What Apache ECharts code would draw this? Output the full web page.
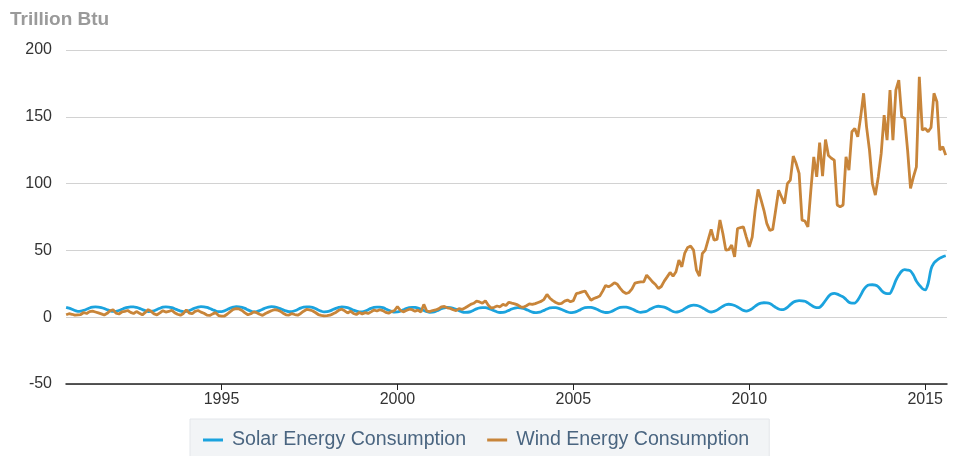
<!DOCTYPE html>
<html>
<head>
<meta charset="utf-8">
<title>Solar and Wind Energy Consumption</title>
<script src="https://cdn.jsdelivr.net/npm/echarts@6/dist/echarts.min.js"></script>
<style>
  html, body { margin: 0; padding: 0; background: #fff; }
  #chart { width: 959px; height: 456px; }
</style>
</head>
<body>
<div id="chart"></div>
<script>
// monthly series, first value is August 1990
const startYear = 1990
const startMonth = 8
const yearTicks = [1995, 2000, 2005, 2010, 2015]
const seriesNames = ["Solar Energy Consumption", "Wind Energy Consumption"]

const solarValues = [
  7.4, 6.8, 6.0, 5.0, 4.4,
  4.6, 5.2, 6.0, 6.9, 7.5, 7.8, 7.6, 7.2, 6.5, 5.6, 4.8, 4.3,
  4.4, 5.0, 5.9, 6.8, 7.4, 7.7, 7.7, 7.3, 6.6, 5.7, 4.9, 4.2,
  4.3, 4.8, 5.8, 6.7, 7.5, 7.8, 7.6, 7.1, 6.3, 5.4, 4.6, 4.1,
  4.3, 4.9, 5.9, 6.9, 7.6, 7.9, 7.8, 7.3, 6.5, 5.6, 4.7, 4.2,
  4.2, 4.7, 5.8, 6.8, 7.5, 7.9, 7.8, 7.4, 6.6, 5.5, 4.6, 4.0,
  4.2, 4.9, 5.9, 6.9, 7.6, 7.9, 7.8, 7.2, 6.4, 5.5, 4.7, 4.1,
  4.2, 4.8, 5.8, 6.8, 7.5, 7.8, 7.7, 7.3, 6.5, 5.4, 4.5, 4.0,
  4.1, 4.7, 5.7, 6.6, 7.3, 7.7, 7.6, 7.1, 6.3, 5.3, 4.5, 3.9,
  4.0, 4.6, 5.6, 6.6, 7.3, 7.6, 7.5, 7.1, 6.2, 5.2, 4.4, 3.8,
  3.9, 4.5, 5.5, 6.5, 7.1, 7.4, 7.3, 6.8, 6.0, 5.0, 4.2, 3.7,
  3.8, 4.3, 5.3, 6.3, 7.0, 7.3, 7.2, 6.7, 5.9, 4.9, 4.0, 3.6,
  3.7, 4.2, 5.2, 6.2, 6.9, 7.2, 7.1, 6.6, 5.8, 4.8, 3.9, 3.5,
  3.6, 4.1, 5.1, 6.1, 6.8, 7.1, 7.0, 6.5, 5.7, 4.7, 3.8, 3.4,
  3.6, 4.1, 5.1, 6.1, 6.9, 7.2, 7.1, 6.6, 5.8, 4.8, 3.9, 3.4,
  3.6, 4.2, 5.2, 6.3, 7.1, 7.4, 7.3, 6.8, 6.0, 4.9, 4.0, 3.5,
  3.7, 4.3, 5.4, 6.5, 7.3, 7.6, 7.5, 7.0, 6.2, 5.1, 4.1, 3.6,
  3.9, 4.5, 5.7, 6.9, 7.8, 8.2, 8.0, 7.5, 6.6, 5.4, 4.3, 3.8,
  4.2, 5.0, 6.4, 7.7, 8.7, 9.0, 8.8, 8.2, 7.1, 5.8, 4.5, 3.9,
  4.4, 5.3, 6.8, 8.2, 9.3, 9.7, 9.5, 8.8, 7.7, 6.3, 5.1, 4.6,
  5.2, 6.4, 8.2, 9.7, 10.5, 10.8, 10.7, 10.2, 8.9, 7.4, 6.1, 5.6,
  6.0, 7.4, 9.4, 11.2, 12.1, 12.4, 12.3, 11.9, 10.7, 9.2, 7.8, 7.2,
  7.4, 9.5, 12.5, 15.5, 17.4, 17.8, 17.3, 16.2, 15.2, 13.3, 11.2, 10.5,
  10.6, 12.8, 16.5, 20.5, 23.2, 24.2, 24.3, 24.0, 22.8, 20.2, 18.3, 17.6,
  17.8, 22.0, 27.5, 31.5, 34.5, 35.6, 35.3, 34.6, 31.5, 27.0, 24.0, 21.5,
  20.5, 25.2, 36.0, 40.5, 42.6, 44.2, 45.3, 46.0
]

const windValues = [
  1.8, 2.6, 2.2, 1.5, 1.8,
  2.0, 3.5, 2.8, 4.2, 4.6, 3.9, 3.2, 2.5, 1.6, 2.9, 4.8, 5.6,
  3.0, 2.4, 3.9, 4.4, 5.0, 3.6, 2.8, 4.2, 3.0, 1.8, 3.6, 5.7,
  4.4, 2.5, 1.8, 3.2, 4.9, 3.8, 4.3, 5.2, 3.4, 2.2, 1.5, 2.8,
  5.5, 3.1, 2.6, 4.4, 5.0, 3.8, 2.9, 1.6, 1.3, 2.5, 3.4, 1.2,
  0.8, 0.9, 2.4, 4.2, 5.8, 6.4, 6.2, 5.0, 3.2, 1.8, 2.6, 4.0,
  3.4, 2.2, 1.4, 2.8, 3.8, 4.8, 5.6, 5.4, 4.5, 3.0, 1.8, 1.6,
  2.7, 2.0, 1.5, 2.8, 4.5, 5.8, 5.5, 4.8, 3.5, 2.0, 1.4, 1.0,
  1.2, 1.5, 2.5, 3.6, 5.2, 6.0, 4.8, 3.2, 4.5, 2.8, 2.0, 3.5,
  2.5, 3.4, 2.8, 4.0, 5.4, 4.6, 5.6, 4.9, 3.6, 3.0, 4.2, 5.0,
  8.0, 5.2, 4.0, 5.0, 6.0, 5.6, 4.5, 5.3, 3.8, 9.6, 4.6, 4.2,
  5.0, 5.4, 6.2, 7.8, 8.0, 7.0, 6.6, 5.6, 4.9, 6.5, 5.8, 6.9,
  8.2, 9.6, 10.4, 12.0, 11.4, 10.5, 12.3, 9.0, 6.8, 7.4, 8.4, 7.8,
  9.6, 8.8, 11.2, 10.5, 10.0, 9.2, 7.8, 7.4, 8.6, 10.0, 9.6, 10.2,
  11.0, 11.8, 13.4, 17.0, 14.2, 12.4, 11.0, 10.0, 10.4, 12.0, 12.8, 11.6,
  12.4, 17.6, 18.2, 19.0, 19.6, 16.0, 12.7, 14.0, 14.8, 15.8, 19.5, 23.8,
  22.7, 24.0, 25.8, 24.6, 21.6, 19.0, 17.7, 18.5, 21.2, 25.5, 26.0, 26.4,
  26.4, 31.5, 29.0, 26.4, 24.5, 21.5, 23.0, 27.0, 30.2, 33.5, 30.7, 34.0,
  42.7, 37.7, 48.0, 52.2, 53.2, 50.2, 35.2, 30.7, 47.7, 50.2, 58.0, 65.7,
  57.7, 58.2, 72.7, 62.7, 50.2, 50.5, 54.0, 45.2, 66.4, 67.0, 67.6, 60.0,
  52.7, 60.0, 80.0, 95.7, 88.0, 80.0, 70.0, 65.0, 65.7, 80.0, 95.0, 90.0,
  85.0, 100.0, 102.6, 120.6, 115.0, 107.6, 72.7, 72.0, 67.6, 95.0, 120.0, 105.0,
  130.6, 105.6, 133.0, 121.0, 119.0, 117.6, 84.0, 82.6, 84.0, 120.0, 110.0, 138.8,
  141.3, 135.0, 150.0, 167.6, 142.5, 125.0, 100.0, 91.4, 105.0, 122.6, 151.3, 132.6,
  170.0, 132.6, 170.0, 177.5, 150.0, 148.8, 125.0, 96.4, 105.0, 112.6, 180.0, 140.0,
  141.3, 138.8, 142.0, 167.6, 161.3, 125.0, 127.6, 121.3
]

function toPoints(values) {
  return values.map((v, i) => [startYear + (startMonth - 1 + i) / 12, v])
}

const chart = echarts.init(document.getElementById("chart"))

const option = {
  animation: false,
  textStyle: { fontFamily: "Liberation Sans, Arial, sans-serif" },
  title: {
    text: "Trillion Btu",
    left: 5,
    top: 5,
    textStyle: { fontSize: 19, fontWeight: "bold", color: "#9a9a9a" },
  },
  grid: {
    left: 66,
    right: 12,
    top: 50,
    bottom: 72,
  },
  legend: {
    data: seriesNames,
    left: 190,
    top: 419,
    icon: "rect",
    itemWidth: 20,
    itemHeight: 3,
    itemGap: 21,
    padding: [11, 20, 14, 13],
    backgroundColor: "#f2f4f6",
    borderColor: "#e3e6ea",
    borderWidth: 1,
    textStyle: { fontSize: 19.6, color: "#4a6580", padding: [0, 0, 0, 4] },
  },
  xAxis: {
    type: "value",
    min: 1990.58,
    max: 2015.62,
    axisLine: { onZero: false, lineStyle: { color: "#222", width: 1.5 } },
    axisTick: {
      show: true,
      length: 6,
      customValues: yearTicks,
      lineStyle: { color: "#222" },
    },
    axisLabel: {
      customValues: yearTicks,
      color: "#333",
      fontSize: 16,
      margin: 8,
      formatter: (v) => String(Math.round(v)),
    },
    splitLine: { show: false },
  },
  yAxis: {
    type: "value",
    min: -50,
    max: 200,
    interval: 50,
    axisLine: { show: false },
    axisTick: { show: false },
    axisLabel: { color: "#333", fontSize: 16, margin: 14 },
    splitLine: { lineStyle: { color: "#d2d2d2", width: 1.2 } },
  },
  series: [
    {
      name: seriesNames[0],
      type: "line",
      showSymbol: false,
      smooth: 0.3,
      data: toPoints(solarValues),
      lineStyle: { width: 2.8, color: "#1ba3de" },
      itemStyle: { color: "#1ba3de" },
    },
    {
      name: seriesNames[1],
      type: "line",
      showSymbol: false,
      data: toPoints(windValues),
      lineStyle: { width: 2.8, color: "#c8853a" },
      itemStyle: { color: "#c8853a" },
    },
  ],
}

chart.setOption(option)
</script>
</body>
</html>
